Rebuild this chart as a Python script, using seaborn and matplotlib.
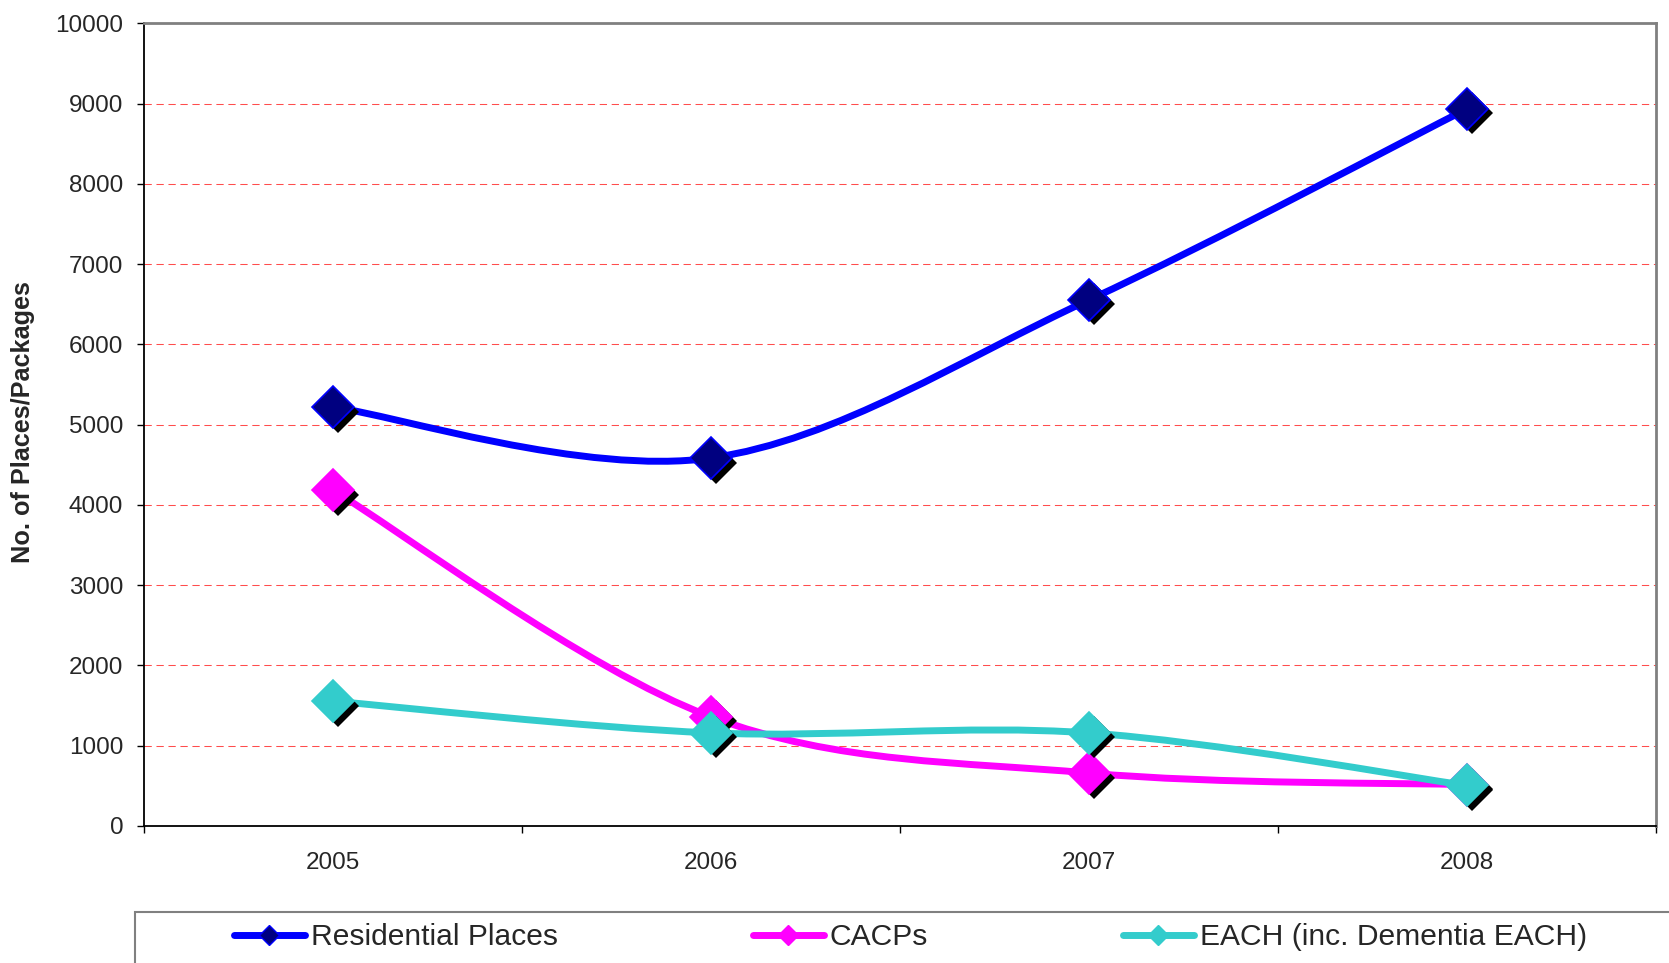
import numpy as np
import pandas as pd
import matplotlib
matplotlib.use("Agg")
import matplotlib.pyplot as plt
import matplotlib.transforms as mtransforms
from matplotlib.path import Path
from matplotlib.patches import PathPatch, Rectangle
from matplotlib.lines import Line2D
import seaborn as sns

# ---- data ----
years = ["2005", "2006", "2007", "2008"]
residential = [5220, 4585, 6555, 8935]
cacps = [4185, 1360, 660, 515]
each = [1555, 1160, 1160, 505]
series_names = ["Residential Places", "CACPs", "EACH (inc. Dementia EACH)"]
y_ticks = list(range(0, 10001, 1000))
y_label = "No. of Places/Packages"

line_colors = ["#0000FF", "#FF00FF", "#33CCCC"]
marker_faces = ["#000080", "#FF00FF", "#33CCCC"]
marker_edges = ["#0000FF", "#FF00FF", "#33CCCC"]

sns.set_theme(style="white")
plt.rcParams["font.family"] = ["Liberation Sans", "DejaVu Sans"]

W, H = 1669, 963
fig = plt.figure(figsize=(W / 100, H / 100), dpi=100)
ax = fig.add_axes([144 / W, 1 - 826 / H, (1656 - 144) / W, (826 - 23.4) / H])

xpos = np.arange(len(years))


def smooth_path(xs, ys):
    pts = np.column_stack([xs, ys]).astype(float)
    n = len(pts)
    verts = [pts[0]]
    codes = [Path.MOVETO]
    for i in range(n - 1):
        p0 = pts[i - 1] if i > 0 else pts[i]
        p1 = pts[i]
        p2 = pts[i + 1]
        p3 = pts[i + 2] if i + 2 < n else pts[i + 1]
        c1 = p1 + (p2 - p0) / 6.0
        c2 = p2 - (p3 - p1) / 6.0
        verts += [c1, c2, p2]
        codes += [Path.CURVE4] * 3
    return Path(verts, codes)


shadow = ax.transData + mtransforms.ScaledTranslation(4.5 / 100, -4.5 / 100, fig.dpi_scale_trans)
MS = 21.5
for i, vals in enumerate([residential, cacps, each]):
    z = 3 + i
    patch = PathPatch(smooth_path(xpos, vals), facecolor="none", edgecolor=line_colors[i],
                      lw=5, capstyle="round", joinstyle="round", zorder=z)
    ax.add_patch(patch)
    ax.plot(xpos, vals, linestyle="", marker="D", ms=MS, color="black",
            markeredgewidth=0, transform=shadow, zorder=z + 0.1)
    df = pd.DataFrame({"x": xpos, "y": vals})
    sns.lineplot(data=df, x="x", y="y", ax=ax, marker="D", markersize=MS,
                 markerfacecolor=marker_faces[i], markeredgecolor=marker_edges[i],
                 markeredgewidth=1.2, linestyle="", legend=False, zorder=z + 0.2)

ax.set_xlim(-0.5, 3.5)
ax.set_ylim(0, 10000)
ax.set_xlabel("")
ax.set_ylabel("")
ax.set_yticks(y_ticks)
ax.set_yticklabels([str(t) for t in y_ticks])
ax.set_xticks(xpos)
ax.set_xticklabels(years)
ax.set_xticks(np.arange(-0.5, len(years), 1.0), minor=True)
ax.tick_params(axis="y", which="major", direction="out", length=5, width=1,
               color="black", pad=10, labelsize=17.5, left=True)
ax.tick_params(axis="x", which="major", length=0, pad=18.5, labelsize=17.5)
ax.tick_params(axis="x", which="minor", direction="out", length=5, width=1,
               color="black", bottom=True)

ax.set_axisbelow(True)
ax.yaxis.grid(True, color="#FF4D4D", linestyle=(0, (7, 4.5)), linewidth=0.75)
ax.xaxis.grid(False)

for s in ["left", "bottom"]:
    ax.spines[s].set_color("black")
    ax.spines[s].set_linewidth(1.3)
for s in ["top", "right"]:
    ax.spines[s].set_color("#808080")
    ax.spines[s].set_linewidth(2)
for s in ax.spines.values():
    s.set_zorder(10)

fig.text(23 / W, 1 - 422 / H, y_label, rotation=90, fontsize=18.2, fontweight="bold",
         ha="center", va="center")

handles = [Line2D([], [], color=line_colors[i], lw=5, solid_capstyle="round", marker="D",
                  markersize=10, markerfacecolor=marker_faces[i],
                  markeredgecolor=marker_edges[i], markeredgewidth=1)
           for i in range(3)]
fig.legend(handles, series_names, loc="center left",
           bbox_to_anchor=(234 / W, 1 - 937 / H), ncol=3, frameon=False, fontsize=21.6,
           handlelength=2.36, handletextpad=0.2, columnspacing=6.5, borderpad=0,
           borderaxespad=0)

fig.add_artist(Rectangle((135 / W, -0.1), 1.0, 0.1 + (963 - 912) / H,
                         transform=fig.transFigure, fill=False, edgecolor="#808080",
                         lw=1.5, clip_on=False))

fig.savefig("out.png", dpi=100)
